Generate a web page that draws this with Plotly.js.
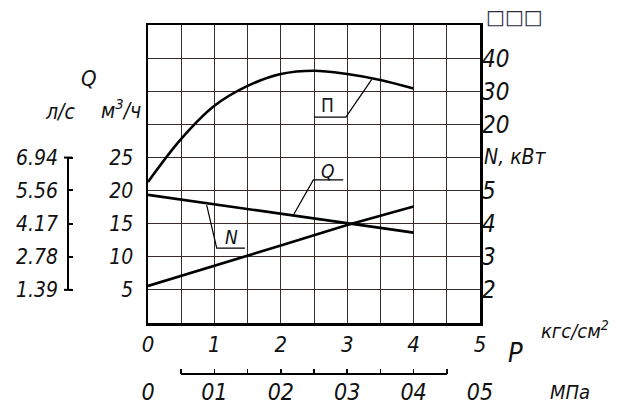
<!DOCTYPE html>
<html><head><meta charset="utf-8">
<script src="https://cdn.plot.ly/plotly-3.0.1.min.js"></script>
<style>html,body{margin:0;padding:0;background:#fff}#chart{width:630px;height:420px}</style>
</head><body><div id="chart"></div>
<script>
// Pressure, kgf/cm^2
const pressure = [0, 0.5, 1, 1.5, 2, 2.5, 3, 3.5, 4];
// Efficiency П, %
const efficiency = [2.6, 15.6, 25.6, 31.6, 35.2, 36.2, 35.2, 33.4, 30.8];
// Flow Q, m3/h
const pressureQN = [0, 1, 2, 3, 4];
const flowQ = [5.6, 8.6, 11.7, 14.8, 17.6];
// Power N, kW
const powerN = [4.87, 4.58, 4.30, 4.01, 3.73];

// Tick labels
const xTickVals = [0, 0.5, 1, 1.5, 2, 2.5, 3, 3.5, 4, 4.5, 5];
const xTickText = ['0', ' ', '1', ' ', '2', ' ', '3', ' ', '4', ' ', '5'];
const mpaTickVals = [0, 0.05, 0.1, 0.15, 0.2, 0.25, 0.3, 0.35, 0.4, 0.45, 0.5];
const mpaTickText = ['0', ' ', '01', ' ', '02', ' ', '03', ' ', '04', ' ', '05'];
const qTickVals = [0, 5, 10, 15, 20, 25, 30, 35, 40, 45];
const qTickText = [' ', '5', '10', '15', '20', '25', ' ', ' ', ' ', ' '];
const lsTickVals = [1.39, 2.78, 4.17, 5.56, 6.94];
const lsTickText = ['1.39', '2.78', '4.17', '5.56', '6.94'];
const nTickVals = [2, 3, 4, 5];
const effTickVals = [20, 30, 40];

// Leader lines for curve labels (x: kgf/cm2, y: m3/h scale)
const leaderP_x = [2.50, 2.98, 3.37];
const leaderP_y = [31.1, 31.1, 36.8];
const leaderQ_x = [2.94, 2.49, 2.19];
const leaderQ_y = [21.6, 21.6, 16.3];
const leaderN_x = [0.884, 1.035, 1.46];
const leaderN_y = [17.8, 11.3, 11.3];

const FONT = 'Liberation Sans Narrow, DejaVu Sans Condensed, Arial Narrow, sans-serif';
const W = 630, PB = 400, PH = 375;
const px = v => v / W;
const py = v => (PB - v) / PH;
const it = (size) => ({family: FONT, size: size, color: '#111', style: 'italic'});

const curve = {color: '#000', width: 2.6, shape: 'spline', smoothing: 1};
const leader = {color: '#000', width: 1.2};

const traces = [
  {x: pressure, y: efficiency, yaxis: 'y3', mode: 'lines', line: curve, hoverinfo: 'skip'},
  {x: pressureQN, y: flowQ, yaxis: 'y', mode: 'lines', line: {color: '#000', width: 2.6}, hoverinfo: 'skip'},
  {x: pressureQN, y: powerN, yaxis: 'y2', mode: 'lines', line: {color: '#000', width: 2.6}, hoverinfo: 'skip'},
  {x: leaderP_x, y: leaderP_y, yaxis: 'y', mode: 'lines', line: leader, hoverinfo: 'skip'},
  {x: leaderQ_x, y: leaderQ_y, yaxis: 'y', mode: 'lines', line: leader, hoverinfo: 'skip'},
  {x: leaderN_x, y: leaderN_y, yaxis: 'y', mode: 'lines', line: leader, hoverinfo: 'skip'}
];

const grid = '#3b2b2b';
const ann = (x, y, text, font, xa) => ({xref: 'paper', yref: 'paper', x: px(x), y: py(y), text: text,
  showarrow: false, font: font, xanchor: xa || 'center', yanchor: 'middle'});

const layout = {
  width: 630, height: 420,
  margin: {l: 0, r: 0, t: 25, b: 20},
  paper_bgcolor: '#fff', plot_bgcolor: '#fff',
  showlegend: false,
  font: {family: FONT, color: '#111'},
  xaxis: {
    domain: [px(148), px(480)], range: [0, 5],
    tickmode: 'array', tickvals: xTickVals, ticktext: xTickText,
    showgrid: true, gridcolor: grid, gridwidth: 1,
    showline: true, mirror: true, linecolor: '#000', linewidth: 2.5,
    zeroline: false, ticks: '', tickfont: it(22), ticklabelstandoff: 0
  },
  xaxis2: {
    overlaying: 'x', anchor: 'free', position: py(374), side: 'bottom',
    range: [0, 0.5], tickmode: 'array', tickvals: mpaTickVals, ticktext: mpaTickText,
    ticks: 'inside', ticklen: 5, tickwidth: 1.5, tickcolor: '#000',
    showline: false, showgrid: false, zeroline: false, tickfont: it(23), ticklabelstandoff: 2
  },
  yaxis: {
    domain: [py(323), 1], range: [0, 45],
    tickmode: 'array', tickvals: qTickVals, ticktext: qTickText,
    showgrid: true, gridcolor: grid, gridwidth: 1,
    showline: true, mirror: true, linecolor: '#000', linewidth: 2.5,
    zeroline: false, ticks: '', tickfont: it(21), ticklabelstandoff: 8
  },
  yaxis2: {
    overlaying: 'y', side: 'right', anchor: 'x', range: [1, 10],
    tickmode: 'array', tickvals: nTickVals, showgrid: false, zeroline: false,
    showline: false, ticks: '', tickfont: it(24), ticklabelstandoff: 1
  },
  yaxis3: {
    overlaying: 'y', side: 'right', anchor: 'x', range: [-40, 50],
    tickmode: 'array', tickvals: effTickVals, showgrid: false, zeroline: false,
    showline: false, ticks: '', tickfont: it(24), ticklabelstandoff: 1
  },
  yaxis4: {
    overlaying: 'y', anchor: 'free', position: px(68), side: 'left', range: [0, 12.5],
    tickmode: 'array', tickvals: lsTickVals, ticktext: lsTickText,
    ticks: 'inside', ticklen: 4, tickwidth: 2, tickcolor: '#000',
    showgrid: false, zeroline: false, showline: false, tickfont: it(21), ticklabelstandoff: 10
  },
  shapes: [
    {type: 'line', xref: 'paper', yref: 'y4', x0: px(68), x1: px(68), y0: 1.39, y1: 6.94, line: {color: '#000', width: 2}},
    {type: 'line', xref: 'paper', yref: 'y4', x0: px(64), x1: px(72), y0: 1.39, y1: 1.39, line: {color: '#000', width: 2}},
    {type: 'line', xref: 'paper', yref: 'y4', x0: px(64), x1: px(72), y0: 6.94, y1: 6.94, line: {color: '#000', width: 2}},
    {type: 'line', xref: 'x2', yref: 'paper', x0: 0.05, x1: 0.45, y0: py(374), y1: py(374), line: {color: '#000', width: 1.8}}
  ],
  annotations: [
    ann(89, 78, 'Q', it(22)),
    ann(60, 112, 'л/с', it(21)),
    ann(121, 109, 'м<sup>3</sup>/ч', it(21)),
    ann(514, 17, '□□□', {family: 'DejaVu Sans', size: 20, color: '#2b2b45'}),
    {xref: 'paper', yref: 'y', x: px(482), y: 25, xanchor: 'left', yanchor: 'middle', text: 'N, кВт', showarrow: false, font: it(21)},
    ann(515, 352, 'P', it(27)),
    ann(539, 330, 'кгс/см<sup>2</sup>', it(20), 'left'),
    ann(570, 392, 'МПа', it(20)),
    {xref: 'x', yref: 'y', x: 2.71, y: 32.9, text: 'П', showarrow: false, font: {family: FONT, size: 19, color: '#1a1a2a'}},
    {xref: 'x', yref: 'y', x: 2.70, y: 23.0, text: 'Q', showarrow: false, font: it(19)},
    {xref: 'x', yref: 'y', x: 1.25, y: 13.0, text: 'N', showarrow: false, font: it(19)}
  ]
};

Plotly.newPlot('chart', traces, layout, {staticPlot: true, displayModeBar: false});
</script>
</body></html>
